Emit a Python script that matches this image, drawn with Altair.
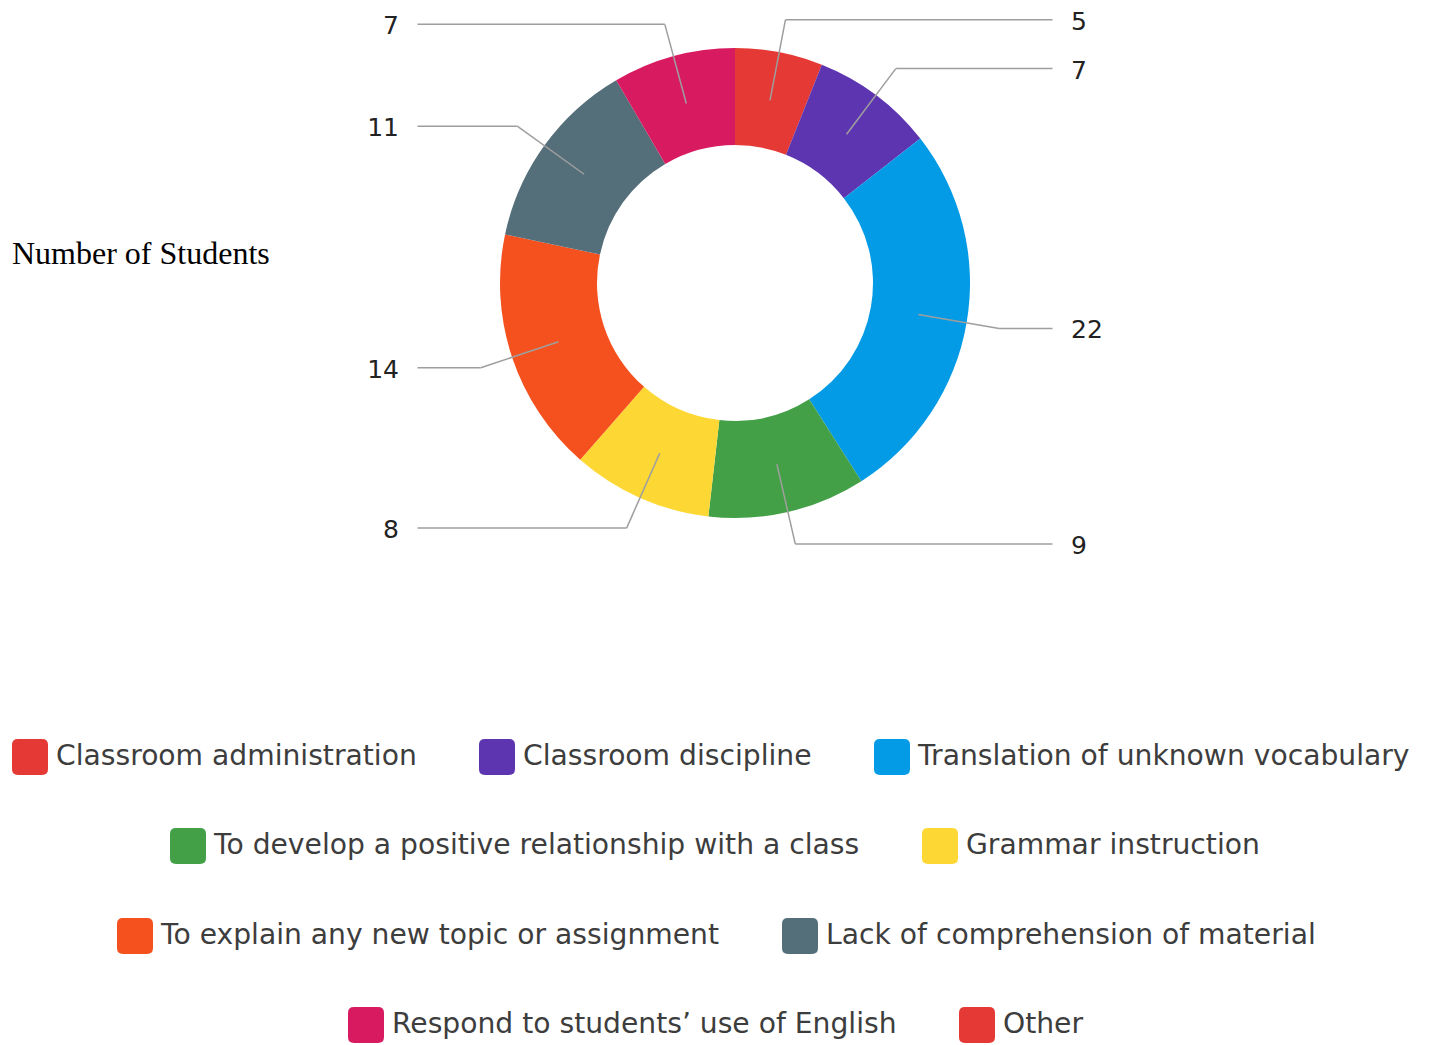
import altair as alt
import pandas as pd

# ---------------- data ----------------
categories = [
    "Classroom administration",
    "Classroom discipline",
    "Translation of unknown vocabulary",
    "To develop a positive relationship with a class",
    "Grammar instruction",
    "To explain any new topic or assignment",
    "Lack of comprehension of material",
    "Respond to students\u2019 use of English",
    "Other",
]
values = [5, 7, 22, 9, 8, 14, 11, 7, 0]
colors = ["#e53935", "#5e35b1", "#039be5", "#43a047", "#fdd835",
          "#f4511e", "#546e7a", "#d81b60", "#e53935"]
title_text = "Number of Students"

df = pd.DataFrame({"category": categories, "value": values,
                   "idx": list(range(len(categories)))})

# ---------------- layout constants ----------------
W, H = 1429, 1045
CX, CY = 735, 283          # donut centre (pixels)
R_IN, R_OUT = 138, 235
R_TICK, R_ELBOW = 186, 268
X_END, X_LABEL = 317.5, 336

xs = alt.Scale(domain=[-CX, W - CX], nice=False, zero=False)
ys = alt.Scale(domain=[-CY, H - CY], reverse=True, nice=False, zero=False)

base = alt.Chart(df)

arcs = base.transform_filter("datum.value > 0").mark_arc(
    innerRadius=R_IN, outerRadius=R_OUT
).encode(
    theta=alt.Theta("value:Q", stack=True),
    order=alt.Order("idx:Q"),
    color=alt.Color("category:N",
                    scale=alt.Scale(domain=categories, range=colors),
                    legend=None),
    x=alt.value(CX),
    y=alt.value(CY),
)

geo = base.transform_filter("datum.value > 0").transform_window(
    cum="sum(value)", sort=[alt.SortField("idx")], frame=[None, 0]
).transform_joinaggregate(
    total="sum(value)"
).transform_calculate(
    mid="2*PI*(datum.cum - datum.value/2)/datum.total"
).transform_calculate(
    x0=f"sin(datum.mid)*{R_TICK}",
    y0=f"-cos(datum.mid)*{R_TICK}",
    x1=f"sin(datum.mid)*{R_ELBOW}",
    y1=f"-cos(datum.mid)*{R_ELBOW}",
    x2=f"datum.mid < PI ? {X_END} : {-X_END}",
    lx=f"datum.mid < PI ? {X_LABEL} : {-X_LABEL}",
    side="datum.mid < PI ? 'R' : 'L'",
)

line_color = "#9e9e9e"
rule1 = geo.mark_rule(color=line_color, strokeWidth=1.5).encode(
    x=alt.X("x0:Q", scale=xs, axis=None),
    y=alt.Y("y0:Q", scale=ys, axis=None),
    x2="x1:Q", y2="y1:Q",
)
rule2 = geo.mark_rule(color=line_color, strokeWidth=1.5).encode(
    x=alt.X("x1:Q", scale=xs, axis=None),
    y=alt.Y("y1:Q", scale=ys, axis=None),
    x2="x2:Q", y2="y1:Q",
)

label_style = dict(font="DejaVu Sans", fontSize=25, color="#222222",
                   baseline="middle", dy=2)
labels_r = geo.transform_filter("datum.side == 'R'").mark_text(
    align="left", **label_style
).encode(
    x=alt.X("lx:Q", scale=xs, axis=None),
    y=alt.Y("y1:Q", scale=ys, axis=None),
    text="value:Q",
)
labels_l = geo.transform_filter("datum.side == 'L'").mark_text(
    align="right", **label_style
).encode(
    x=alt.X("lx:Q", scale=xs, axis=None),
    y=alt.Y("y1:Q", scale=ys, axis=None),
    text="value:Q",
)

title_layer = alt.Chart(pd.DataFrame({"t": [title_text]})).mark_text(
    align="left", baseline="alphabetic", font="Liberation Serif",
    fontSize=32, color="#000000"
).encode(x=alt.value(12), y=alt.value(264), text="t:N")

# ---------------- legend (four centred rows) ----------------
rounded_square = ("M-0.67,-1L0.67,-1Q1,-1,1,-0.67L1,0.67Q1,1,0.67,1"
                  "L-0.67,1Q-1,1,-1,0.67L-1,-0.67Q-1,-1,-0.67,-1Z")
rows = [[0, 1, 2], [3, 4], [5, 6], [7, 8]]
row_x = [12, 170, 117, 348]
row_y = [739, 828, 918, 1007]

legend_layers = []
for r, (members, lx, ly) in enumerate(zip(rows, row_x, row_y)):
    dom = [categories[i] for i in members]
    rng = [colors[i] for i in members]
    legend_layers.append(
        base.transform_filter("false").mark_arc().encode(
            color=alt.Color(
                "category:N",
                scale=alt.Scale(domain=dom, range=rng),
                legend=alt.Legend(
                    title=None, orient="none", legendX=lx, legendY=ly,
                    direction="horizontal", padding=0,
                    symbolType=rounded_square, symbolSize=1296,
                    symbolStrokeWidth=0, symbolOpacity=1,
                    labelFont="DejaVu Sans", labelFontSize=28.2,
                    labelColor="#3d3d3d", labelOffset=8, labelLimit=2000,
                    columnPadding=62,
                ),
            )
        )
    )

chart = alt.layer(
    arcs, rule1, rule2, labels_r, labels_l, title_layer, *legend_layers
).resolve_scale(color="independent").properties(
    width=W, height=H, autosize="none", padding=0
).configure_view(stroke=None)

chart.save("out.html", embed_options={"renderer": "svg", "actions": False})
